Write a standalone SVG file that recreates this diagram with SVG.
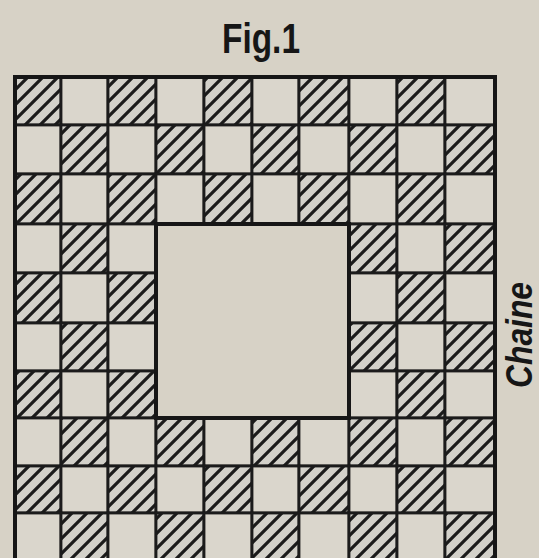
<svg xmlns="http://www.w3.org/2000/svg" width="539" height="558" viewBox="0 0 539 558">
<style>
.bg{fill:#d7d2c6}
.p{fill:#dad6cc;stroke:#1b1b1b;stroke-width:2.8}
.h{fill:url(#hatch);stroke:#1b1b1b;stroke-width:2.8}
.edge{fill:none;stroke:#161616;stroke-width:4;stroke-linejoin:miter}
.t{font-family:"Liberation Sans",Arial,sans-serif;fill:#161616;font-weight:bold}
</style>
<defs>
<pattern id="hatch" patternUnits="userSpaceOnUse" width="15" height="15">
<rect width="15" height="15" fill="#d3d1ca"/>
<path d="M-1,16 L16,-1 M-3,3 L3,-3 M12,18 L18,12" stroke="#1b1b1b" stroke-width="3.2"/>
</pattern>
</defs>
<rect class="bg" width="539" height="558"/>
<text class="t" x="261" y="53" font-size="42" text-anchor="middle" textLength="78" lengthAdjust="spacingAndGlyphs">Fig.1</text>
<text class="t" transform="translate(532,335) rotate(-90)" font-size="36" font-style="italic" text-anchor="middle" textLength="106" lengthAdjust="spacingAndGlyphs">Chaine</text>
<g id="grid">
<!-- row 0 y77-125 -->
<rect class="h" x="15" y="77" width="46" height="48"/>
<rect class="p" x="61" y="77" width="47" height="48"/>
<rect class="h" x="108" y="77" width="48" height="48"/>
<rect class="p" x="156" y="77" width="48" height="48"/>
<rect class="h" x="204" y="77" width="48" height="48"/>
<rect class="p" x="252" y="77" width="47" height="48"/>
<rect class="h" x="299" y="77" width="50" height="48"/>
<rect class="p" x="349" y="77" width="48" height="48"/>
<rect class="h" x="397" y="77" width="48" height="48"/>
<rect class="p" x="445" y="77" width="50" height="48"/>
<!-- row 1 y125-174 -->
<rect class="p" x="15" y="125" width="46" height="49"/>
<rect class="h" x="61" y="125" width="47" height="49"/>
<rect class="p" x="108" y="125" width="48" height="49"/>
<rect class="h" x="156" y="125" width="48" height="49"/>
<rect class="p" x="204" y="125" width="48" height="49"/>
<rect class="h" x="252" y="125" width="47" height="49"/>
<rect class="p" x="299" y="125" width="50" height="49"/>
<rect class="h" x="349" y="125" width="48" height="49"/>
<rect class="p" x="397" y="125" width="48" height="49"/>
<rect class="h" x="445" y="125" width="50" height="49"/>
<!-- row 2 y174-224 -->
<rect class="h" x="15" y="174" width="46" height="50"/>
<rect class="p" x="61" y="174" width="47" height="50"/>
<rect class="h" x="108" y="174" width="48" height="50"/>
<rect class="p" x="156" y="174" width="48" height="50"/>
<rect class="h" x="204" y="174" width="48" height="50"/>
<rect class="p" x="252" y="174" width="47" height="50"/>
<rect class="h" x="299" y="174" width="50" height="50"/>
<rect class="p" x="349" y="174" width="48" height="50"/>
<rect class="h" x="397" y="174" width="48" height="50"/>
<rect class="p" x="445" y="174" width="50" height="50"/>
<!-- row 3 y224-273 -->
<rect class="p" x="15" y="224" width="46" height="49"/>
<rect class="h" x="61" y="224" width="47" height="49"/>
<rect class="p" x="108" y="224" width="48" height="49"/>
<rect class="h" x="349" y="224" width="48" height="49"/>
<rect class="p" x="397" y="224" width="48" height="49"/>
<rect class="h" x="445" y="224" width="50" height="49"/>
<!-- row 4 y273-323 -->
<rect class="h" x="15" y="273" width="46" height="50"/>
<rect class="p" x="61" y="273" width="47" height="50"/>
<rect class="h" x="108" y="273" width="48" height="50"/>
<rect class="p" x="349" y="273" width="48" height="50"/>
<rect class="h" x="397" y="273" width="48" height="50"/>
<rect class="p" x="445" y="273" width="50" height="50"/>
<!-- row 5 y323-371 -->
<rect class="p" x="15" y="323" width="46" height="48"/>
<rect class="h" x="61" y="323" width="47" height="48"/>
<rect class="p" x="108" y="323" width="48" height="48"/>
<rect class="h" x="349" y="323" width="48" height="48"/>
<rect class="p" x="397" y="323" width="48" height="48"/>
<rect class="h" x="445" y="323" width="50" height="48"/>
<!-- row 6 y371-418 -->
<rect class="h" x="15" y="371" width="46" height="47"/>
<rect class="p" x="61" y="371" width="47" height="47"/>
<rect class="h" x="108" y="371" width="48" height="47"/>
<rect class="p" x="349" y="371" width="48" height="47"/>
<rect class="h" x="397" y="371" width="48" height="47"/>
<rect class="p" x="445" y="371" width="50" height="47"/>
<!-- row 7 y418-466 -->
<rect class="p" x="15" y="418" width="46" height="48"/>
<rect class="h" x="61" y="418" width="47" height="48"/>
<rect class="p" x="108" y="418" width="48" height="48"/>
<rect class="h" x="156" y="418" width="48" height="48"/>
<rect class="p" x="204" y="418" width="48" height="48"/>
<rect class="h" x="252" y="418" width="47" height="48"/>
<rect class="p" x="299" y="418" width="50" height="48"/>
<rect class="h" x="349" y="418" width="48" height="48"/>
<rect class="p" x="397" y="418" width="48" height="48"/>
<rect class="h" x="445" y="418" width="50" height="48"/>
<!-- row 8 y466-513 -->
<rect class="h" x="15" y="466" width="46" height="47"/>
<rect class="p" x="61" y="466" width="47" height="47"/>
<rect class="h" x="108" y="466" width="48" height="47"/>
<rect class="p" x="156" y="466" width="48" height="47"/>
<rect class="h" x="204" y="466" width="48" height="47"/>
<rect class="p" x="252" y="466" width="47" height="47"/>
<rect class="h" x="299" y="466" width="50" height="47"/>
<rect class="p" x="349" y="466" width="48" height="47"/>
<rect class="h" x="397" y="466" width="48" height="47"/>
<rect class="p" x="445" y="466" width="50" height="47"/>
<!-- row 9 y513-561 -->
<rect class="p" x="15" y="513" width="46" height="48"/>
<rect class="h" x="61" y="513" width="47" height="48"/>
<rect class="p" x="108" y="513" width="48" height="48"/>
<rect class="h" x="156" y="513" width="48" height="48"/>
<rect class="p" x="204" y="513" width="48" height="48"/>
<rect class="h" x="252" y="513" width="47" height="48"/>
<rect class="p" x="299" y="513" width="50" height="48"/>
<rect class="h" x="349" y="513" width="48" height="48"/>
<rect class="p" x="397" y="513" width="48" height="48"/>
<rect class="h" x="445" y="513" width="50" height="48"/>
</g>
<g id="outline">
<path class="edge" d="M15,565 L15,77 L495,77 L495,565"/>
<rect class="edge" x="156" y="224" width="193" height="194"/>
</g>
</svg>
